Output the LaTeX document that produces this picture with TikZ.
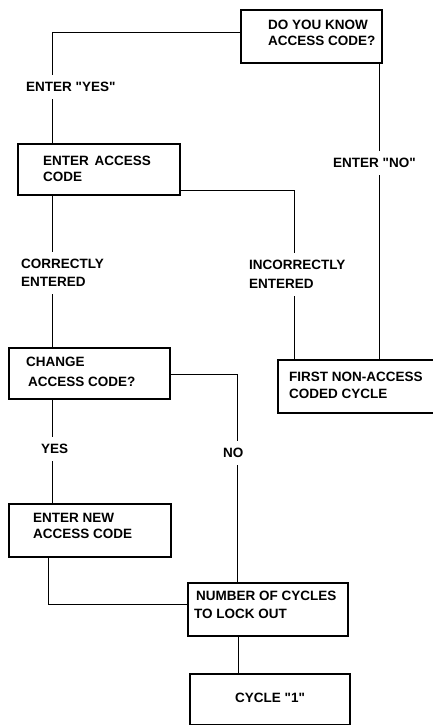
\documentclass[tikz,border=0pt]{standalone}
\usepackage{fontspec}
\setmainfont{Liberation Sans}[Ligatures=TeXOff]
\begin{document}
\begin{tikzpicture}[x=1pt,y=-1pt]
\tikzset{
 box/.style={draw=black, line width=1.7pt, anchor=north west, inner sep=0pt},
 txt/.style={anchor=west, align=left, inner sep=0pt, font=\fontsize{13.5}{16}\selectfont\bfseries},
 lbl/.style={anchor=west, align=left, fill=white, inner xsep=2pt, inner ysep=7pt, font=\fontsize{13.5}{16}\selectfont\bfseries},
 conn/.style={draw=black, line width=0.9pt},
}
\clip (0,0) rectangle (433,725);
\fill[white] (0,0) rectangle (433,725);

% boxes
\node[box, minimum width=141pt, minimum height=53pt] (b1) at (240,9) {};
\node[box, minimum width=162pt, minimum height=51pt] (b2) at (17,143) {};
\node[box, minimum width=161pt, minimum height=51pt] (b3) at (8,347) {};
\node[box, minimum width=170pt, minimum height=53pt] (bF) at (277,359) {};
\node[box, minimum width=162pt, minimum height=53pt] (b4) at (8,503) {};
\node[box, minimum width=160pt, minimum height=53pt] (b5) at (187,582) {};
\node[box, minimum width=160pt, minimum height=51pt] (b6) at (189,673) {};

% box texts
\node[txt] (t1) at (268,33) {DO YOU KNOW\\ACCESS CODE?};
\node[txt] (t2) at (43,169) {ENTER\hspace{2pt} ACCESS\\CODE};
\node[txt] (t3) at (26,372) {CHANGE\\[4pt]\hspace{2pt}ACCESS CODE?};
\node[txt] (tF) at (289,385.5) {FIRST NON-ACCESS\\[1pt]CODED CYCLE};
\node[txt] (t4) at (33,526) {ENTER NEW\\ACCESS CODE};
\node[txt] (t5) at (194,605) {\hspace{2pt}NUMBER OF CYCLES\\[2.5pt]TO LOCK OUT};
\node[txt] (t6) at (235,698) {CYCLE "1"};

% connectors
\draw[conn] ([yshift=3.5pt]b1.west) -| ([xshift=35pt]b2.north west);
\coordinate (p2) at ([xshift=-3pt]b1.south east);
\draw[conn] (p2) -- (p2 |- bF.north);
\draw[conn] ([yshift=5pt]b2.south east) -| ([xshift=17pt]bF.north west);
\coordinate (p4) at ([xshift=35pt]b2.south west);
\draw[conn] (p4) -- (p4 |- b3.north);
\draw[conn] ([yshift=-1.5pt]b3.east) -| ([xshift=50pt]b5.north west);
\coordinate (p6) at ([xshift=44pt]b3.south west);
\draw[conn] (p6) -- (p6 |- b4.north);
\draw[conn] ([xshift=40pt]b4.south west) |- ([yshift=4.5pt]b5.west);
\coordinate (p8) at ([xshift=51pt]b5.south west);
\draw[conn] (p8) -- (p8 |- b6.north);

% labels
\node[lbl] (lyes) at (24,87) {ENTER "YES"};
\node[lbl] (lno) at (331,163) {ENTER "NO"};
\node[lbl] (lcor) at (19,273) {CORRECTLY\\[2pt]ENTERED};
\node[lbl] (linc) at (247,274.5) {INCORRECTLY\\[3pt]ENTERED};
\node[lbl] (lyes2) at (39,449) {YES};
\node[lbl] (lno2) at (221,453) {NO};
\end{tikzpicture}
\end{document}
